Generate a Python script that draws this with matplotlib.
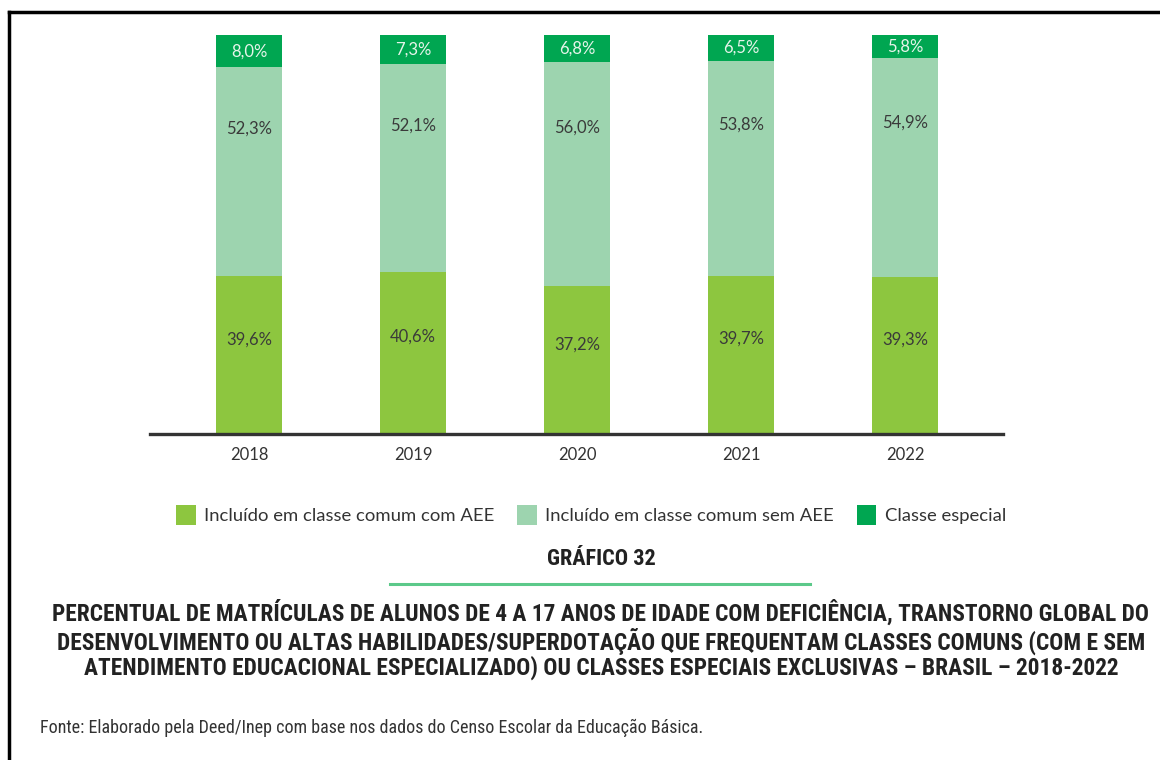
import matplotlib
matplotlib.use("Agg")
import matplotlib.pyplot as plt
from matplotlib.patches import Patch
from matplotlib.lines import Line2D
from matplotlib import font_manager as fm

years = ["2018", "2019", "2020", "2021", "2022"]
com_aee = [39.6, 40.6, 37.2, 39.7, 39.3]
sem_aee = [52.3, 52.1, 56.0, 53.8, 54.9]
especial = [8.0, 7.3, 6.8, 6.5, 5.8]
series_names = ["Incluído em classe comum com AEE",
                "Incluído em classe comum sem AEE",
                "Classe especial"]
colors = ["#8DC63F", "#9DD4AF", "#00A651"]

title_label = "GRÁFICO 32"
title_text = ("PERCENTUAL DE MATRÍCULAS DE ALUNOS DE 4 A 17 ANOS DE IDADE COM DEFICIÊNCIA, TRANSTORNO GLOBAL DO\n"
              "DESENVOLVIMENTO OU ALTAS HABILIDADES/SUPERDOTAÇÃO QUE FREQUENTAM CLASSES COMUNS (COM E SEM\n"
              "ATENDIMENTO EDUCACIONAL ESPECIALIZADO) OU CLASSES ESPECIAIS EXCLUSIVAS – BRASIL – 2018-2022")
source_text = "Fonte: Elaborado pela Deed/Inep com base nos dados do Censo Escolar da Educação Básica."

available = {f.name for f in fm.fontManager.ttflist}
def pick(names):
    for n in names:
        if n in available:
            return n
    return "DejaVu Sans"

label_font = pick(["Lato", "Open Sans", "DejaVu Sans"])
cond_font = pick(["Liberation Sans Narrow", "DejaVu Sans Condensed", "Roboto Condensed", "Lato"])

W, H = 1160, 760
fig = plt.figure(figsize=(W / 100, H / 100), dpi=100)
fig.patch.set_facecolor("white")

# axes: x from 150 to 1003 px, y baseline 434 px, top 35 px
ax_left, ax_right, ax_bottom, ax_top = 150, 1003, 434, 35
ax = fig.add_axes([ax_left / W, (H - ax_bottom) / H,
                   (ax_right - ax_left) / W, (ax_bottom - ax_top) / H])
x = list(range(len(years)))
width = 0.40
ax.bar(x, com_aee, width, color=colors[0], label=series_names[0])
ax.bar(x, sem_aee, width, bottom=com_aee, color=colors[1], label=series_names[1])
bottom3 = [a + b for a, b in zip(com_aee, sem_aee)]
ax.bar(x, especial, width, bottom=bottom3, color=colors[2], label=series_names[2])

fmt = lambda v: f"{v:.1f}%".replace(".", ",")
for i in x:
    ax.text(i, com_aee[i] * 0.60, fmt(com_aee[i]), ha="center", va="center",
            fontsize=12, color="#3A3A3A", family=label_font)
    ax.text(i, com_aee[i] + sem_aee[i] * 0.705, fmt(sem_aee[i]), ha="center", va="center",
            fontsize=12, color="#3A3A3A", family=label_font)
    ax.text(i, bottom3[i] + especial[i] * 0.5, fmt(especial[i]), ha="center", va="center",
            fontsize=12, color="#E6F4EA", family=label_font)

ax.set_xlim(-(249 - 150) / 164, (1003 - 249) / 164)
ax.set_ylim(0, 100)
ax.set_xticks(x)
ax.set_xticklabels(years, family=label_font, fontsize=12, color="#333333")
ax.tick_params(axis="x", length=0, pad=9)
ax.set_yticks([])
for s in ["top", "right", "left"]:
    ax.spines[s].set_visible(False)
ax.spines["bottom"].set_linewidth(2.4)
ax.spines["bottom"].set_color("#333333")
ax.set_facecolor("none")

handles = [Patch(facecolor=c, edgecolor="none") for c in colors]
fig.legend(handles, series_names, loc="center", bbox_to_anchor=(591 / W, 1 - 515 / H),
           ncol=3, frameon=False, prop={"family": label_font, "size": 13.3},
           handlelength=1.05, handleheight=1.3, handletextpad=0.45, columnspacing=1.25,
           labelcolor="#333333")

fig.text(601 / W, 1 - 559 / H, title_label, ha="center", va="center",
         family=cond_font, fontweight="bold", fontsize=16, color="#222222")
fig.add_artist(Line2D([390 / W, 810 / W], [1 - 584 / H, 1 - 584 / H],
                      color="#5CC98A", linewidth=2.2))
fig.text(601 / W, 1 - 640 / H, title_text, ha="center", va="center",
         family=cond_font, fontweight="bold", fontsize=16.8, color="#222222",
         linespacing=1.06)
fig.text(40 / W, 1 - 728 / H, source_text, ha="left", va="center",
         family=cond_font, fontsize=13, color="#333333")

# page border
fig.add_artist(Line2D([9 / W, 9 / W], [0, 1 - 12 / H], color="black", linewidth=2.5))
fig.add_artist(Line2D([9 / W, 1], [1 - 12 / H, 1 - 12 / H], color="black", linewidth=2.5))

fig.savefig("out.png", dpi=100)
